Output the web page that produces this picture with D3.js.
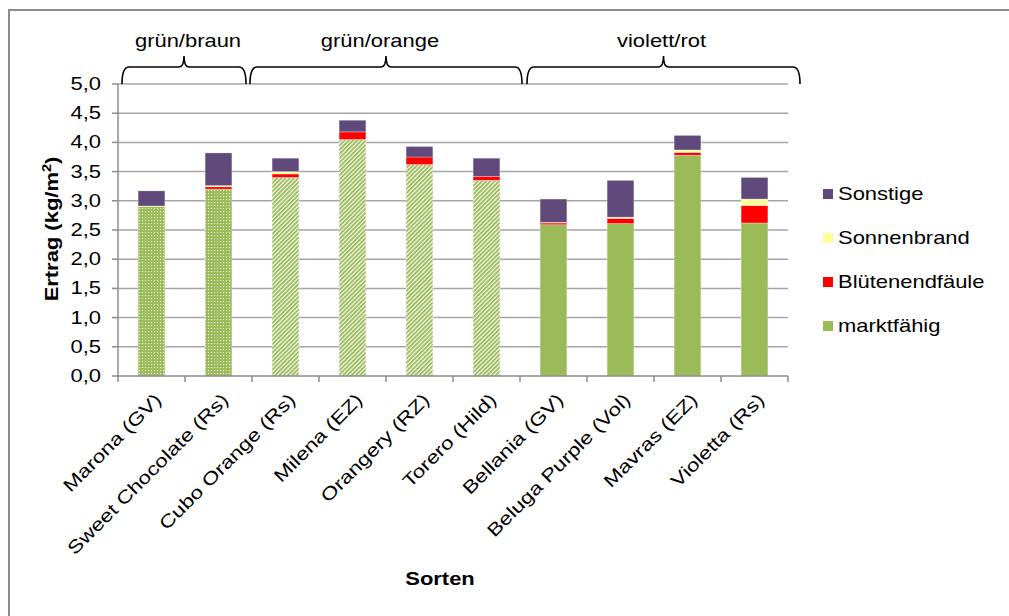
<!DOCTYPE html>
<html>
<head>
<meta charset="utf-8">
<script src="https://cdn.jsdelivr.net/npm/d3@7"></script>
<style>
  body { margin: 0; background: #fff; }
  svg { font-family: "Liberation Sans", Arial, sans-serif; }
</style>
</head>
<body>
<main></main>
<script>
// Sorten und Ertragsanteile (kg/m²)
const sorten = ["Marona (GV)", "Sweet Chocolate (Rs)", "Cubo Orange (Rs)", "Milena (EZ)", "Orangery (RZ)",
                "Torero (Hild)", "Bellania (GV)", "Beluga Purple (Vol)", "Mavras (EZ)", "Violetta (Rs)"];
const marktfaehig      = [2.90, 3.20, 3.40, 4.05, 3.62, 3.35, 2.59, 2.61, 3.78, 2.62];
const bluetenendfaeule = [0.00, 0.04, 0.06, 0.13, 0.13, 0.07, 0.03, 0.09, 0.05, 0.30];
const sonnenbrand      = [0.01, 0.02, 0.04, 0.00, 0.00, 0.00, 0.01, 0.02, 0.04, 0.11];
const sonstige         = [0.26, 0.56, 0.23, 0.20, 0.18, 0.31, 0.40, 0.63, 0.25, 0.37];

const gruppen = ["grün/braun", "grün/orange", "violett/rot"];
const gruppeVon = [0, 2, 6];
const gruppeBis = [1, 5, 9];

const serien = ["marktfähig", "Blütenendfäule", "Sonnenbrand", "Sonstige"];
const yTicks = [0, 0.5, 1, 1.5, 2, 2.5, 3, 3.5, 4, 4.5, 5];

const farben = {"marktfähig": "#9BBB59", "Blütenendfäule": "#FF0000", "Sonnenbrand": "#FFFF99", "Sonstige": "#604A7B"};
const sx = 1.22; // Excel-Schrift wirkt breiter

let svg = d3.select("main").append("svg").attr("width", 1009).attr("height", 616);

// Rahmen
svg.append("rect").attr("x", 9).attr("y", 10).attr("width", 1100).attr("height", 700)
   .attr("fill", "none").attr("stroke", "#8c8c8c").attr("stroke-width", 2);

let defs = svg.append("defs");
let dots = defs.append("pattern").attr("id", "dots").attr("patternUnits", "userSpaceOnUse")
   .attr("width", 3).attr("height", 3);
dots.append("rect").attr("width", 3).attr("height", 3).attr("fill", "#9BBB59");
dots.append("rect").attr("x", 1).attr("y", 1).attr("width", 1.1).attr("height", 1.1).attr("fill", "#eef4e0");

let stripes = defs.append("pattern").attr("id", "stripes").attr("patternUnits", "userSpaceOnUse")
   .attr("width", 3).attr("height", 3).attr("patternTransform", "rotate(45)");
stripes.append("rect").attr("width", 3).attr("height", 3).attr("fill", "#ffffff");
stripes.append("rect").attr("width", 1.9).attr("height", 3).attr("fill", "#9BBB59");

let x = d3.scaleBand().domain(sorten).range([118, 788]).paddingInner(0.6).paddingOuter(0.3);
let y = d3.scaleLinear().domain([0, 5]).range([376, 84]);

// Gitter
svg.append("g").selectAll("line").data(yTicks.slice(1)).enter().append("line")
   .attr("x1", 118).attr("x2", 788).attr("y1", d => y(d)).attr("y2", d => y(d))
   .attr("stroke", "#a6a6a6").attr("stroke-width", 1.5);

// Stapel
let rows = sorten.map((s, i) => ({sorte: s, "marktfähig": marktfaehig[i], "Blütenendfäule": bluetenendfaeule[i],
                                   "Sonnenbrand": sonnenbrand[i], "Sonstige": sonstige[i]}));
let stack = d3.stack().keys(serien)(rows);

function fuellung(key, i) {
    if (key !== "marktfähig") return farben[key];
    let g = gruppeVon.findIndex((v, k) => i >= v && i <= gruppeBis[k]);
    return g === 0 ? "url(#dots)" : g === 1 ? "url(#stripes)" : farben[key];
}

svg.append("g").selectAll("g").data(stack).enter().append("g")
   .each(function(layer) {
       d3.select(this).selectAll("rect").data(layer).enter().append("rect")
         .filter(d => d[1] - d[0] > 0)
         .attr("x", d => x(d.data.sorte))
         .attr("width", x.bandwidth())
         .attr("y", d => y(d[1]))
         .attr("height", d => y(d[0]) - y(d[1]))
         .attr("fill", (d, i) => fuellung(layer.key, sorten.indexOf(d.data.sorte)))
         .attr("stroke", "#ffffff").attr("stroke-opacity", 0.5).attr("stroke-width", 0.6);
   });

// Achsen
let ax = svg.append("g").attr("stroke", "#8c8c8c").attr("stroke-width", 1.5);
ax.append("line").attr("x1", 118).attr("x2", 118).attr("y1", y(5)).attr("y2", y(0));
ax.append("line").attr("x1", 118).attr("x2", 788).attr("y1", y(0)).attr("y2", y(0));
ax.selectAll(".yt").data(yTicks).enter().append("line")
  .attr("x1", 112).attr("x2", 118).attr("y1", d => y(d)).attr("y2", d => y(d));
ax.selectAll(".xt").data(d3.range(sorten.length + 1)).enter().append("line")
  .attr("x1", i => 118 + i * x.step()).attr("x2", i => 118 + i * x.step())
  .attr("y1", y(0)).attr("y2", y(0) + 6);

svg.append("g").selectAll("text").data(yTicks).enter().append("text")
   .attr("transform", d => `translate(101,${y(d) + 6}) scale(${sx},1)`)
   .attr("text-anchor", "end").attr("font-size", 18).attr("fill", "#000")
   .text(d => d3.format(".1f")(d).replace(".", ","));

svg.append("g").selectAll("text").data(sorten).enter().append("text")
   .attr("transform", d => `translate(${x(d) + x.bandwidth() / 2 + 11},${401}) rotate(-45) scale(1.25,1)`)
   .attr("text-anchor", "end").attr("font-size", 18).attr("fill", "#000")
   .text(d => d);

let yt = svg.append("text").attr("transform", `translate(58,229) rotate(-90) scale(${sx},1)`)
   .attr("text-anchor", "middle").attr("font-size", 18).attr("font-weight", "bold");
yt.append("tspan").text("Ertrag (kg/m");
yt.append("tspan").attr("font-size", 12).attr("dy", -7).text("2");
yt.append("tspan").attr("dy", 7).text(")");

svg.append("text").attr("transform", `translate(440,585) scale(${sx},1)`)
   .attr("text-anchor", "middle").attr("font-size", 18).attr("font-weight", "bold").text("Sorten");

// Klammern
let kl = svg.append("g");
gruppen.forEach((g, k) => {
    let x0 = 118 + gruppeVon[k] * x.step() + [4, -2, 7][k];
    let x1 = 118 + (gruppeBis[k] + 1) * x.step() + [-6, 2, 12][k];
    let xm = (x0 + x1) / 2, yb = 84, ya = 67, yp = 56;
    kl.append("path")
      .attr("d", `M${x0},${yb} Q${x0},${ya} ${x0 + 7},${ya} L${xm - 5},${ya} Q${xm},${ya} ${xm},${yp} ` +
                 `Q${xm},${ya} ${xm + 5},${ya} L${x1 - 7},${ya} Q${x1},${ya} ${x1},${yb}`)
      .attr("fill", "none").attr("stroke", "#000").attr("stroke-width", 1.6);
    kl.append("text").attr("transform", `translate(${xm + [4, -6, -2][k]},${47}) scale(${sx},1)`)
      .attr("text-anchor", "middle").attr("font-size", 18).text(g);
});

// Legende
let leg = svg.append("g").selectAll("g").data(serien.slice().reverse()).enter().append("g")
   .attr("transform", (d, i) => `translate(823,${194 + i * 44})`);
leg.append("rect").attr("x", 0).attr("y", -5).attr("width", 10).attr("height", 10).attr("fill", d => farben[d]);
leg.append("text").attr("transform", `translate(15,6) scale(${sx},1)`).attr("font-size", 18).text(d => d);
</script>
</body>
</html>
